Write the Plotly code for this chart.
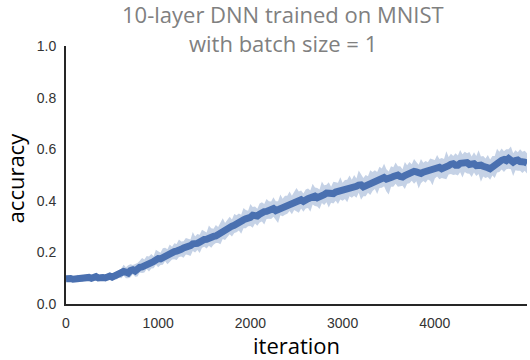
import plotly.graph_objects as go

iterations = list(range(0, 5001, 25))

accuracy_mean = [
    0.098, 0.101, 0.099, 0.096, 0.097, 0.101, 0.100, 0.097, 0.098, 0.102,
    0.103, 0.100, 0.104, 0.106, 0.101, 0.104, 0.103, 0.101, 0.106, 0.108,
    0.104, 0.109, 0.110, 0.114, 0.118, 0.126, 0.124, 0.120, 0.130, 0.133,
    0.128, 0.137, 0.142, 0.144, 0.150, 0.156, 0.158, 0.160, 0.165, 0.172,
    0.176, 0.175, 0.180, 0.188, 0.190, 0.191, 0.196, 0.203, 0.205, 0.206,
    0.212, 0.217, 0.218, 0.220, 0.226, 0.233, 0.232, 0.235, 0.240, 0.248,
    0.250, 0.251, 0.256, 0.262, 0.262, 0.264, 0.270, 0.278, 0.282, 0.284,
    0.290, 0.298, 0.302, 0.305, 0.312, 0.313, 0.318, 0.326, 0.330, 0.331,
    0.336, 0.344, 0.342, 0.341, 0.348, 0.356, 0.358, 0.359, 0.364, 0.369,
    0.370, 0.362, 0.366, 0.374, 0.378, 0.380, 0.386, 0.390, 0.392, 0.396,
    0.398, 0.404, 0.404, 0.398, 0.400, 0.408, 0.412, 0.418, 0.418, 0.412,
    0.414, 0.421, 0.424, 0.430, 0.430, 0.424, 0.428, 0.434, 0.436, 0.441,
    0.440, 0.441, 0.446, 0.450, 0.450, 0.456, 0.456, 0.461, 0.462, 0.454,
    0.458, 0.465, 0.468, 0.476, 0.478, 0.480, 0.486, 0.491, 0.490, 0.484,
    0.484, 0.490, 0.494, 0.500, 0.500, 0.494, 0.492, 0.498, 0.502, 0.508,
    0.510, 0.514, 0.512, 0.506, 0.506, 0.511, 0.514, 0.519, 0.518, 0.522,
    0.524, 0.528, 0.530, 0.524, 0.526, 0.534, 0.536, 0.542, 0.544, 0.538,
    0.538, 0.545, 0.546, 0.550, 0.548, 0.541, 0.540, 0.544, 0.536, 0.540,
    0.538, 0.534, 0.534, 0.528, 0.524, 0.532, 0.540, 0.548, 0.552, 0.557,
    0.560, 0.556, 0.564, 0.558, 0.550, 0.556, 0.558, 0.552, 0.554, 0.550,
    0.546,
]

# read-off half-widths of the shaded band above / below the mean line
spread_above = [
    0.006, 0.009, 0.007, 0.010, 0.008, 0.012, 0.007, 0.009, 0.006, 0.011, 0.008, 0.010,
    0.009, 0.013, 0.007, 0.010, 0.012, 0.008, 0.011, 0.009, 0.010, 0.014, 0.012, 0.016,
    0.020, 0.026, 0.018, 0.030, 0.024, 0.018, 0.028, 0.022, 0.026, 0.034, 0.022, 0.030,
    0.026, 0.034, 0.020, 0.038, 0.028, 0.024, 0.036, 0.030, 0.022, 0.040, 0.026, 0.032,
    0.028, 0.044, 0.030, 0.026, 0.038, 0.032, 0.024, 0.046, 0.030, 0.036, 0.028, 0.040,
    0.034, 0.026, 0.048, 0.032, 0.030, 0.042, 0.028, 0.036, 0.050, 0.030, 0.034, 0.040,
    0.026, 0.044, 0.032, 0.038, 0.028, 0.046, 0.034, 0.030, 0.052, 0.032, 0.036, 0.028,
    0.042, 0.038, 0.030, 0.048, 0.034, 0.028, 0.044, 0.036, 0.032, 0.050, 0.030, 0.040,
    0.034, 0.046, 0.028, 0.038, 0.052, 0.032, 0.036, 0.030, 0.044, 0.040, 0.028, 0.048,
    0.034, 0.038, 0.030, 0.054, 0.036, 0.032, 0.042, 0.030, 0.046, 0.038, 0.034, 0.050,
    0.030, 0.040, 0.036, 0.048, 0.032, 0.044, 0.030, 0.056, 0.038, 0.034, 0.042, 0.030,
    0.050, 0.036, 0.040, 0.032, 0.046, 0.034, 0.054, 0.038, 0.030, 0.044, 0.036, 0.048,
    0.034, 0.040, 0.030, 0.052, 0.036, 0.042, 0.032, 0.048, 0.038, 0.034, 0.056, 0.036,
    0.040, 0.030, 0.046, 0.038, 0.034, 0.050, 0.032, 0.042, 0.036, 0.058, 0.034, 0.040,
    0.030, 0.046, 0.038, 0.052, 0.034, 0.040, 0.036, 0.048, 0.032, 0.044, 0.038, 0.056,
    0.034, 0.040, 0.030, 0.050, 0.036, 0.042, 0.034, 0.054, 0.038, 0.046, 0.032, 0.044,
    0.036, 0.052, 0.034, 0.040, 0.030, 0.048, 0.036, 0.044, 0.038,
]

spread_below = [
    0.007, 0.006, 0.009, 0.007, 0.010, 0.006, 0.008, 0.011, 0.007, 0.009, 0.006, 0.010,
    0.008, 0.007, 0.012, 0.009, 0.010, 0.013, 0.008, 0.011, 0.014, 0.010, 0.015, 0.012,
    0.018, 0.016, 0.024, 0.020, 0.026, 0.018, 0.022, 0.030, 0.020, 0.024, 0.028, 0.020,
    0.032, 0.022, 0.026, 0.020, 0.034, 0.024, 0.028, 0.022, 0.036, 0.026, 0.024, 0.030,
    0.034, 0.024, 0.028, 0.038, 0.026, 0.030, 0.040, 0.028, 0.032, 0.026, 0.042, 0.030,
    0.028, 0.036, 0.030, 0.044, 0.032, 0.028, 0.034, 0.046, 0.030, 0.036, 0.032, 0.028,
    0.040, 0.030, 0.034, 0.028, 0.046, 0.032, 0.036, 0.030, 0.034, 0.048, 0.030, 0.038,
    0.032, 0.036, 0.050, 0.030, 0.034, 0.040, 0.032, 0.036, 0.052, 0.030, 0.038, 0.034,
    0.036, 0.030, 0.044, 0.032, 0.038, 0.050, 0.034, 0.040, 0.030, 0.036, 0.054, 0.032,
    0.038, 0.034, 0.046, 0.030, 0.040, 0.036, 0.056, 0.032, 0.038, 0.034, 0.048, 0.036,
    0.040, 0.034, 0.052, 0.032, 0.038, 0.036, 0.044, 0.030, 0.058, 0.036, 0.040, 0.034,
    0.046, 0.038, 0.032, 0.054, 0.036, 0.040, 0.034, 0.048, 0.060, 0.036, 0.040, 0.034,
    0.046, 0.038, 0.034, 0.052, 0.036, 0.040, 0.032, 0.048, 0.036, 0.058, 0.038, 0.034,
    0.044, 0.036, 0.040, 0.062, 0.038, 0.034, 0.046, 0.036, 0.040, 0.050, 0.034, 0.038,
    0.044, 0.036, 0.040, 0.034, 0.056, 0.038, 0.042, 0.036, 0.048, 0.034, 0.040, 0.036,
    0.064, 0.040, 0.046, 0.036, 0.042, 0.034, 0.052, 0.038, 0.040, 0.036, 0.048, 0.034,
    0.040, 0.036, 0.054, 0.038, 0.042, 0.036, 0.046, 0.034, 0.040,
]

band_upper = [m + s for m, s in zip(accuracy_mean, spread_above)]
band_lower = [m - s for m, s in zip(accuracy_mean, spread_below)]

x_ticks = [0, 1000, 2000, 3000, 4000]
y_ticks = [0.0, 0.2, 0.4, 0.6, 0.8, 1.0]

LINE = "#4A70B0"
BAND = "rgba(76,114,176,0.32)"

fig = go.Figure()
fig.add_trace(go.Scatter(x=iterations, y=band_upper, mode="lines",
                         line=dict(width=0), showlegend=False, hoverinfo="skip"))
fig.add_trace(go.Scatter(x=iterations, y=band_lower, mode="lines",
                         line=dict(width=0), fill="tonexty", fillcolor=BAND,
                         showlegend=False, hoverinfo="skip"))
fig.add_trace(go.Scatter(x=iterations, y=accuracy_mean, mode="lines",
                         line=dict(color=LINE, width=7), showlegend=False))

tick_font = dict(family="Liberation Sans, Arial, sans-serif", size=14, color="#333333")
label_font = dict(family="Open Sans, sans-serif", size=22, color="black")
title_font = dict(family="Open Sans, sans-serif", size=22, color="#808080")

fig.update_layout(
    width=530, height=360,
    margin=dict(l=66, r=3, t=46, b=56),
    paper_bgcolor="white", plot_bgcolor="white",
    xaxis=dict(range=[0, 5000], tickvals=x_ticks, showgrid=False, zeroline=False,
               showline=True, linecolor="#262626", linewidth=2, ticks="",
               tickfont=tick_font, ticklabelstandoff=5),
    yaxis=dict(range=[0, 1], tickvals=y_ticks, tickformat=".1f", showgrid=False,
               zeroline=False, showline=True, linecolor="#262626", linewidth=2,
               ticks="", tickfont=tick_font, ticklabelstandoff=5),
    annotations=[
        dict(text="10-layer DNN trained on MNIST", xref="paper", yref="paper",
             x=0.470, y=1.124, xanchor="center", yanchor="middle",
             showarrow=False, font=title_font),
        dict(text="with batch size = 1", xref="paper", yref="paper",
             x=0.470, y=1.010, xanchor="center", yanchor="middle",
             showarrow=False, font=title_font),
        dict(text="iteration", xref="paper", yref="paper", x=0.5, y=-0.16,
             xanchor="center", yanchor="middle", showarrow=False, font=label_font),
        dict(text="accuracy", xref="paper", yref="paper", x=-0.11, y=0.488,
             xanchor="center", yanchor="middle", textangle=-90, showarrow=False,
             font=label_font),
    ],
)

fig.write_html("out.html", config={"displayModeBar": False},
               post_script="document.body.style.margin='0';document.body.style.overflow='hidden';")
